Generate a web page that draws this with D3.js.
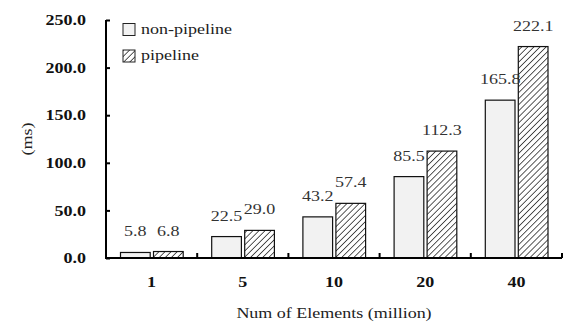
<!DOCTYPE html>
<html>
<head>
<meta charset="utf-8">
<script src="https://cdn.jsdelivr.net/npm/d3@7/dist/d3.min.js"></script>
<style>
  html, body { margin: 0; padding: 0; background: #fff; }
  svg { display: block; }
</style>
</head>
<body>
<svg id="chart" width="568" height="327"></svg>
<script>
// Execution time (ms) by number of elements
const categories = ["1", "5", "10", "20", "40"];
const seriesNames = ["non-pipeline", "pipeline"];
const nonPipeline = [5.8, 22.5, 43.2, 85.5, 165.8];
const pipeline = [6.8, 29.0, 57.4, 112.3, 222.1];
const yTicks = [0, 50, 100, 150, 200, 250];

const svg = d3.select("#chart");
const font = "'Liberation Serif', 'Times New Roman', serif";
const plotLeft = 106, plotRight = 562, plotTop = 20, plotBottom = 258;
const stretch = 1.2; // horizontally widened serif lettering

// place text at (x, y) with a horizontal stretch
const at = (fx, fy) => (d, i) => `translate(${fx(d, i)},${fy(d, i)}) scale(${stretch},1)`;

// Hatch pattern for the pipeline series
const hatchGap = 4.3;
const defs = svg.append("defs");
const pat = defs.append("pattern")
  .attr("id", "hatch")
  .attr("patternUnits", "userSpaceOnUse")
  .attr("width", hatchGap).attr("height", hatchGap)
  .attr("patternTransform", "rotate(45)");
pat.append("rect").attr("width", hatchGap).attr("height", hatchGap).attr("fill", "#fff");
pat.append("line")
  .attr("x1", 0).attr("y1", 0).attr("x2", 0).attr("y2", hatchGap)
  .attr("stroke", "#222").attr("stroke-width", 1.5);

const x = d3.scaleBand().domain(categories).range([plotLeft, plotRight]).paddingInner(0).paddingOuter(0);
const x1 = d3.scaleBand().domain(seriesNames).range([14.5, x.bandwidth() - 14]).paddingInner(0.1);
const y = d3.scaleLinear().domain([0, 250]).range([plotBottom, plotTop]);

const fills = { "non-pipeline": "#f2f2f2", "pipeline": "url(#hatch)" };

const rows = categories.map((c, i) => ({ cat: c, vals: [
  { name: "non-pipeline", v: nonPipeline[i] },
  { name: "pipeline", v: pipeline[i] }
]}));

const groups = svg.append("g").selectAll("g").data(rows).join("g")
  .attr("transform", d => `translate(${x(d.cat)},0)`);

groups.selectAll("rect").data(d => d.vals).join("rect")
  .attr("x", d => x1(d.name))
  .attr("y", d => y(d.v))
  .attr("width", x1.bandwidth())
  .attr("height", d => y(0) - y(d.v))
  .attr("fill", d => fills[d.name])
  .attr("stroke", "#111")
  .attr("stroke-width", 1.2);

groups.selectAll("text.val").data(d => d.vals).join("text")
  .attr("class", "val")
  .attr("transform", at(d => x1(d.name) + x1.bandwidth() / 2, d => y(d.v) - 16))
  .attr("text-anchor", "middle")
  .attr("font-family", font)
  .attr("font-size", 15)
  .attr("fill", "#333")
  .text(d => d.v.toFixed(1));

// Y axis
const yAxis = svg.append("g").attr("transform", `translate(${plotLeft},0)`)
  .call(d3.axisRight(y).tickValues(yTicks).tickSize(4).tickFormat(""));
yAxis.select(".domain").attr("d", `M0,${plotTop}V${plotBottom}`).attr("stroke", "#000").attr("stroke-width", 2);
yAxis.selectAll(".tick line").attr("stroke", "#000").attr("stroke-width", 2);

svg.append("g").selectAll("text").data(yTicks).join("text")
  .attr("transform", at(() => 86, d => y(d)))
  .attr("dy", "0.35em")
  .attr("text-anchor", "end")
  .attr("font-family", font).attr("font-size", 15).attr("font-weight", "bold")
  .attr("fill", "#111")
  .text(d => d.toFixed(1));

// X axis
const xAxis = svg.append("g").attr("transform", `translate(0,${plotBottom})`);
xAxis.append("line").attr("x1", plotLeft - 1).attr("x2", plotRight).attr("y1", 0).attr("y2", 0)
  .attr("stroke", "#000").attr("stroke-width", 2);
xAxis.selectAll("line.tk").data(categories.slice(1).concat(["end"])).join("line")
  .attr("class", "tk")
  .attr("x1", d => d === "end" ? plotRight : x(d))
  .attr("x2", d => d === "end" ? plotRight : x(d))
  .attr("y1", 0).attr("y2", -5)
  .attr("stroke", "#000").attr("stroke-width", 2);
xAxis.selectAll("text").data(categories).join("text")
  .attr("transform", at(d => x(d) + x.bandwidth() / 2, () => 29))
  .attr("text-anchor", "middle")
  .attr("font-family", font).attr("font-size", 15).attr("font-weight", "bold")
  .attr("fill", "#111")
  .text(d => d);

// Axis titles
svg.append("text")
  .attr("transform", `translate(${(plotLeft + plotRight) / 2},318) scale(${stretch},1)`)
  .attr("text-anchor", "middle")
  .attr("font-family", font).attr("font-size", 15).attr("fill", "#222")
  .text("Num of Elements (million)");

svg.append("text")
  .attr("transform", `translate(32,${(plotTop + plotBottom) / 2}) rotate(-90) scale(${stretch},1)`)
  .attr("text-anchor", "middle")
  .attr("font-family", font).attr("font-size", 15).attr("fill", "#222")
  .text("(ms)");

// Legend
const legend = svg.append("g").selectAll("g").data(seriesNames).join("g")
  .attr("transform", (d, i) => `translate(123,${23.5 + i * 26.5})`);
legend.append("rect")
  .attr("width", 12).attr("height", 12)
  .attr("fill", d => fills[d])
  .attr("stroke", "#222").attr("stroke-width", 1);
legend.append("text")
  .attr("transform", `translate(18,10) scale(${stretch},1)`)
  .attr("font-family", font).attr("font-size", 15).attr("fill", "#222")
  .text(d => d);
</script>
</body>
</html>
